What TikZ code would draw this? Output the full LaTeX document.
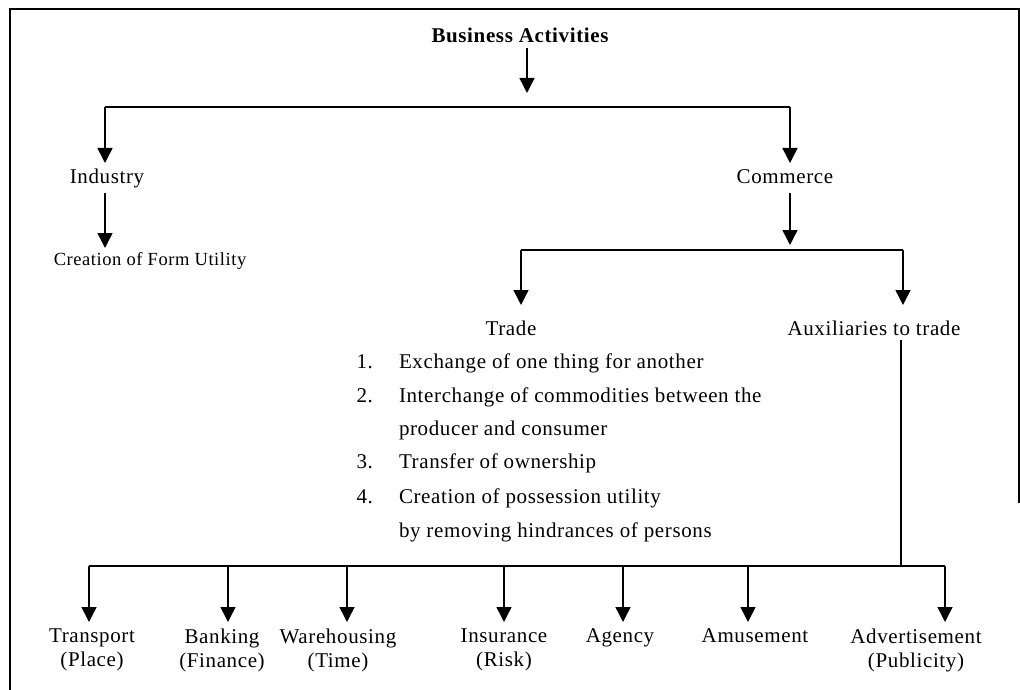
\documentclass[tikz,border=0pt]{standalone}
\usepackage{fontspec}
\setmainfont{Liberation Serif}[LetterSpace=3]
\usetikzlibrary{arrows.meta}
\begin{document}
\begin{tikzpicture}[x=1pt,y=-1pt,
  txt/.style={inner sep=0pt, outer sep=0pt, font=\fontsize{21}{24}\selectfont},
  lbl/.style={txt, text height=15pt, text depth=5pt, anchor=base},
  item/.style={lbl, anchor=base west},
  num/.style={lbl, anchor=base east},
  leaf/.style={txt, anchor=north, align=center},
  conn/.style={line width=1.5pt},
  arr/.style={conn, -{Triangle[width=15pt,length=15pt]}},
  frame/.style={line width=1.2pt}
]
\useasboundingbox (0,0) rectangle (1020,690);

% outer frame (open at the bottom)
\draw[frame] (10,690) -- (10,9) -- (1019,9) -- (1019,503);

% headings
\node[lbl, font=\fontsize{21}{24}\selectfont\bfseries] (ba) at (520,43) {Business Activities};
\node[lbl] (ind) at (107,183) {Industry};
\node[lbl] (com) at (785,183) {Commerce};
\node[lbl, font=\fontsize{18.5}{22}\selectfont] (cfu) at (150,265) {Creation of Form Utility};
\node[lbl] (trade) at (511,335) {Trade};
\node[lbl] (aux) at (874,335) {Auxiliaries to trade};

% features of trade
\node[num] (n1) at (373,368) {1.};
\node[item] (l1) at (399,368) {Exchange of one thing for another};
\node[num] (n2) at (373,402) {2.};
\node[item] (l2) at (399,402) {Interchange of commodities between the};
\node[item] (l2b) at (399,435) {producer and consumer};
\node[num] (n3) at (373,468) {3.};
\node[item] (l3) at (399,468) {Transfer of ownership};
\node[num] (n4) at (373,503) {4.};
\node[item] (l4) at (399,503) {Creation of possession utility};
\node[item] (l4b) at (399,537) {by removing hindrances of persons};

% auxiliaries to trade
\node[leaf] (tp) at (92,629) {Transport\\(Place)};
\node[leaf] (bk) at (222,629) {Banking\\(Finance)};
\node[leaf] (wh) at (338,629) {Warehousing\\(Time)};
\node[leaf] (in) at (504,629) {Insurance\\(Risk)};
\node[leaf] (ag) at (620,629) {Agency};
\node[leaf] (am) at (755,629) {Amusement};
\node[leaf] (ad) at (916,629) {Advertisement\\(Publicity)};

% junction points
\coordinate (t0) at (527,107);
\coordinate (tl) at (105,107);
\coordinate (tr) at (790,107);
\coordinate (c0) at (790,250);
\coordinate (cl) at (521,250);
\coordinate (cr) at (903,250);
\coordinate (a0) at (901,566);
\coordinate (b1) at (89,566);
\coordinate (b2) at (228,566);
\coordinate (b3) at (347,566);
\coordinate (b4) at (504,566);
\coordinate (b5) at (623,566);
\coordinate (b6) at (748,566);
\coordinate (b7) at (945,566);

% business activities -> industry / commerce
\draw[arr, shorten >=14pt] (t0 |- ba.south) -- (t0);
\draw[conn] (tl) -- (tr);
\draw[arr, shorten >=5pt] (tl) -- (tl |- ind.north);
\draw[arr, shorten >=5pt] (tr) -- (tr |- com.north);
\draw[arr, shorten <=5pt, shorten >=2pt] (tl |- ind.south) -- (tl |- cfu.north);

% commerce -> trade / auxiliaries
\draw[arr, shorten <=5pt, shorten >=5pt] (c0 |- com.south) -- (c0);
\draw[conn] (cl) -- (cr);
\draw[arr, shorten >=15pt] (cl) -- (cl |- trade.north);
\draw[arr, shorten >=15pt] (cr) -- (cr |- aux.north);

% auxiliaries -> individual services
\draw[conn] (a0 |- aux.south) -- (a0);
\draw[conn] (b1) -- (b7);
\draw[arr, shorten >=7pt] (b1) -- (b1 |- tp.north);
\draw[arr, shorten >=7pt] (b2) -- (b2 |- bk.north);
\draw[arr, shorten >=7pt] (b3) -- (b3 |- wh.north);
\draw[arr, shorten >=7pt] (b4) -- (b4 |- in.north);
\draw[arr, shorten >=7pt] (b5) -- (b5 |- ag.north);
\draw[arr, shorten >=7pt] (b6) -- (b6 |- am.north);
\draw[arr, shorten >=7pt] (b7) -- (b7 |- ad.north);
\end{tikzpicture}
\end{document}
